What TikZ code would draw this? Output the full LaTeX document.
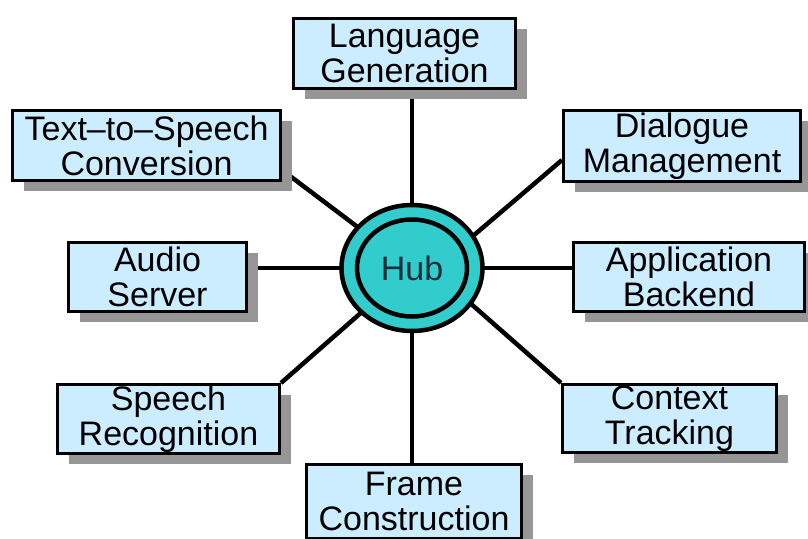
\documentclass[tikz,border=0pt]{standalone}
\usepackage{fontspec}
\setmainfont{Liberation Sans}
\usetikzlibrary{calc,backgrounds,shapes.geometric,shadows}
\definecolor{boxfill}{RGB}{204,236,255}
\definecolor{shadowgray}{RGB}{150,150,150}
\definecolor{hubfill}{RGB}{51,204,204}
\definecolor{hubtext}{RGB}{20,45,60}
\begin{document}
\begin{tikzpicture}[x=1pt,y=-1pt,
  modbox/.style={draw=black, line width=3pt, fill=boxfill, align=center,
    inner sep=0pt, font=\fontsize{34}{35}\selectfont,
    drop shadow={shadow xshift=11pt, shadow yshift=-10pt, fill=shadowgray, opacity=1}},
  conn/.style={draw=black, line width=4.5pt},
  hubring/.style={ellipse, draw=black, line width=4.5pt, fill=hubfill, inner sep=0pt}]
\useasboundingbox (0,0) rectangle (808,538);

\node[modbox, minimum width=222pt, minimum height=70pt] (lang) at (404.5,53.5) {Language\\Generation};
\node[modbox, minimum width=268pt, minimum height=70pt] (tts) at (146.5,145.5) {Text–to–Speech\\Conversion};
\node[modbox, minimum width=237pt, minimum height=71pt] (dlg) at (682,146) {Dialogue\\Management};
\node[modbox, minimum width=178pt, minimum height=69pt] (audio) at (157.5,277) {Audio\\Server};
\node[modbox, minimum width=231pt, minimum height=69pt] (app) at (689,277) {Application\\Backend};
\node[modbox, minimum width=222pt, minimum height=69pt] (speech) at (168.5,419) {Speech\\Recognition};
\node[modbox, minimum width=214pt, minimum height=68pt] (ctx) at (669.5,418.5) {Context\\Tracking};
\node[modbox, minimum width=215pt, minimum height=74pt] (frame) at (414,501.5) {Frame\\Construction};

\node[hubring, minimum width=141pt, minimum height=126pt] (hub) at (412,268) {};
\node[hubring, minimum width=110pt, minimum height=97pt, font=\fontsize{34}{35}\selectfont, text=hubtext] (hubin) at (hub.center) {Hub};

\begin{scope}[on background layer]
  \draw[conn] (hub.center) -- (hub.center |- lang.south);
  \draw[conn] (hub.center) -- ($(tts.south east)+(0,-12)$);
  \draw[conn] ($(hub.center)+(20,3)$) -- ($(dlg.west)+(0,14)$);
  \draw[conn] (audio.east |- hub.center) -- (hub.center);
  \draw[conn] (hub.center) -- (app.west |- hub.center);
  \draw[conn] (hub.center) -- (speech.north east);
  \draw[conn] ($(hub.center)+(0,-16)$) -- (ctx.north west);
  \draw[conn] (hub.center) -- (hub.center |- frame.north);
\end{scope}
\end{tikzpicture}
\end{document}
